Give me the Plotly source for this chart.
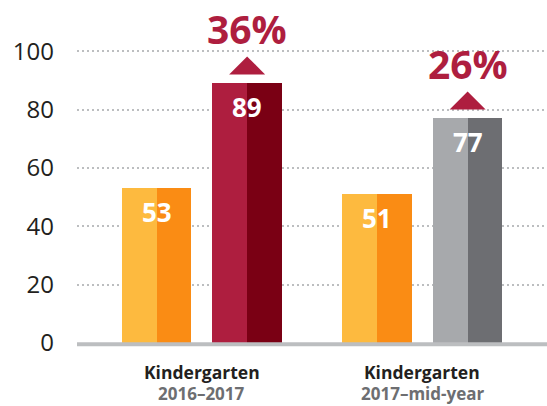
import plotly.graph_objects as go

# ---- data ----
group_titles = ["Kindergarten", "Kindergarten"]
group_periods = ["2016–2017", "2017–mid-year"]
baseline_values = [53, 51]
followup_values = [89, 77]
growth_labels = ["36%", "26%"]
y_ticks = [0, 20, 40, 60, 80, 100]

# ---- styles ----
base_light, base_dark = "#FDBA3F", "#FA8C14"
follow_light = ["#AE1E3F", "#A7A9AC"]
follow_dark = ["#7A0014", "#6D6E72"]
accent = "#AE1E3F"
font_family = "Open Sans, Noto Sans, sans-serif"

bar_offset = 0.205
half_w = 0.1576

fig = go.Figure()

n = len(group_titles)
gx = list(range(n))

def add_half_bars(values, offset, light, dark):
    xs_l = [g + offset - half_w / 2 for g in gx]
    xs_r = [g + offset + half_w / 2 for g in gx]
    fig.add_trace(go.Bar(x=xs_l, y=values, width=half_w, marker=dict(color=light, line=dict(width=0)),
                         showlegend=False, hoverinfo="skip"))
    fig.add_trace(go.Bar(x=xs_r, y=values, width=half_w, marker=dict(color=dark, line=dict(width=0)),
                         showlegend=False, hoverinfo="skip"))

add_half_bars(baseline_values, -bar_offset, base_light, base_dark)
add_half_bars(followup_values, bar_offset, follow_light, follow_dark)

annotations = []
shapes = []
for g in gx:
    # value labels inside bars
    for off, vals in ((-bar_offset, baseline_values), (bar_offset, followup_values)):
        annotations.append(dict(x=g + off, y=vals[g], xref="x", yref="y", text=f"<b>{vals[g]}</b>",
                                showarrow=False, yanchor="middle", yshift=-24,
                                font=dict(family=font_family, size=26, color="white")))
    # growth label
    annotations.append(dict(x=g + bar_offset, y=followup_values[g], xref="x", yref="y",
                            text=f"<b>{growth_labels[g]}</b>", showarrow=False, yanchor="middle",
                            yshift=55, font=dict(family=font_family, size=39, color=accent)))
    # triangle
    shapes.append(dict(type="path", xref="x", yref="y", xsizemode="pixel", ysizemode="pixel",
                       xanchor=g + bar_offset, yanchor=followup_values[g],
                       path="M -18,9 L 18,9 L 0,27 Z", fillcolor=accent, line=dict(width=0)))
    # category labels
    annotations.append(dict(x=g, y=0, xref="x", yref="y", showarrow=False, yanchor="middle", yshift=-29,
                            text=f"<b>{group_titles[g]}</b>",
                            font=dict(family=font_family, size=17.5, color="#231F20")))
    annotations.append(dict(x=g, y=0, xref="x", yref="y", showarrow=False, yanchor="middle", yshift=-50,
                            text=f"<b>{group_periods[g]}</b>",
                            font=dict(family=font_family, size=17, color="#6D6E71")))

# baseline axis line (paper-referenced so it is not clipped by the plot area)
shapes.append(dict(type="line", xref="paper", x0=0, x1=1, yref="paper",
                   y0=-0.004, y1=-0.004, line=dict(color="#BCBEC0", width=4), layer="above"))

fig.update_layout(
    width=547, height=406,
    margin=dict(l=77, r=0, t=0, b=63),
    paper_bgcolor="white", plot_bgcolor="white",
    barmode="overlay", bargap=0,
    showlegend=False,
    xaxis=dict(range=[-0.5664, 1.5651], showticklabels=False, showgrid=False, zeroline=False,
               showline=False, ticks="", fixedrange=True),
    yaxis=dict(range=[0, 117.6], tickvals=y_ticks, showgrid=True, gridcolor="#BCBEC0", gridwidth=2,
               griddash="2px,3px", zeroline=False, showline=False, ticks="", ticklabelstandoff=22,
               tickfont=dict(family=font_family, size=24, color="#231F20")),
    annotations=annotations,
    shapes=shapes,
)

fig.write_html("out.html", config={"displayModeBar": False},
               post_script="document.body.style.margin='0';document.body.style.overflow='hidden';")
